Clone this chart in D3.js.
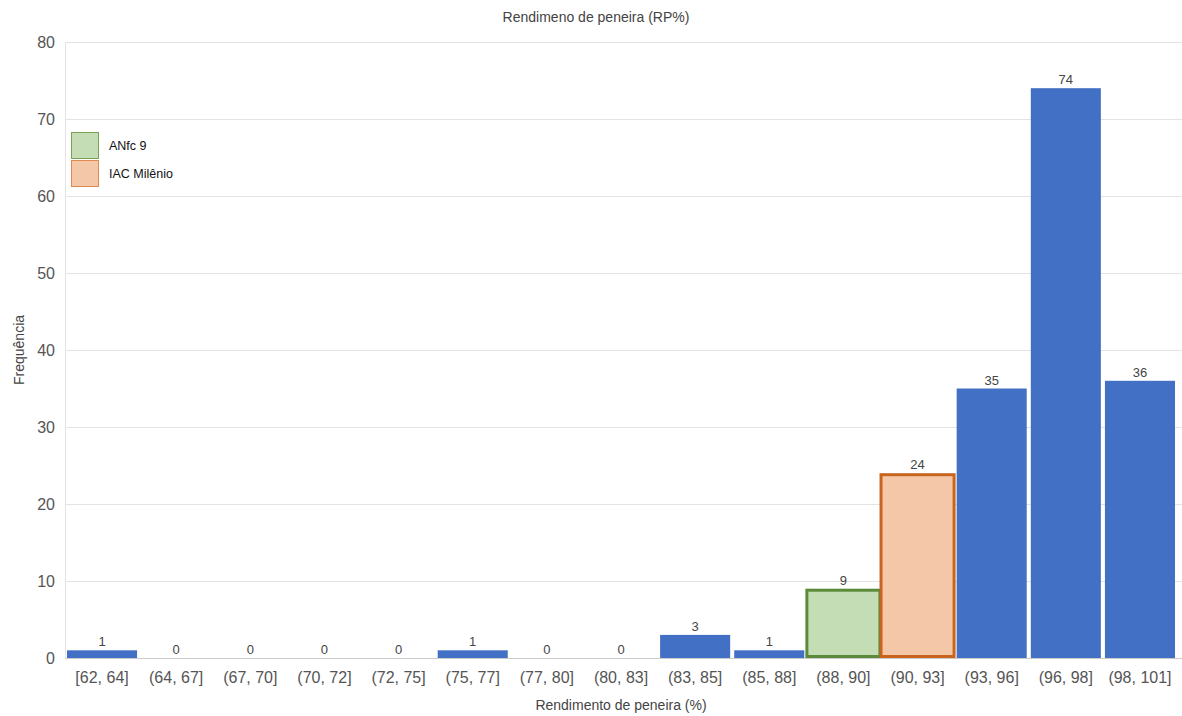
<!DOCTYPE html>
<html>
<head>
<meta charset="utf-8">
<script src="https://cdn.jsdelivr.net/npm/d3@7"></script>
<style>
  body { margin: 0; background: #fff; }
  text { font-family: Arial, "Liberation Sans", sans-serif; }
</style>
</head>
<body>
<svg id="chart" width="1182" height="716"></svg>
<script>
// Histogram bins of sieve yield and their counts
const categories = ["[62, 64]", "(64, 67]", "(67, 70]", "(70, 72]", "(72, 75]", "(75, 77]", "(77, 80]", "(80, 83]", "(83, 85]", "(85, 88]", "(88, 90]", "(90, 93]", "(93, 96]", "(96, 98]", "(98, 101]"];
const counts = [1, 0, 0, 0, 0, 1, 0, 0, 3, 1, 9, 24, 35, 74, 36];
const yTicks = [0, 10, 20, 30, 40, 50, 60, 70, 80];

// Highlighted bins (cultivars) and legend entries
const highlightBins = { "(88, 90]": "ANfc 9", "(90, 93]": "IAC Milênio" };
const legendItems = ["ANfc 9", "IAC Milênio"];
const fills = { "ANfc 9": "#c5ddb4", "IAC Milênio": "#f5c7a9" };
const strokes = { "ANfc 9": "#5b8a3a", "IAC Milênio": "#c9641f" };
const baseColor = "#4170c4";

const svg = d3.select("#chart");
const W = 1182, H = 716;
const margin = { top: 42, right: 5, bottom: 58, left: 65 };
const innerW = W - margin.left - margin.right;
const innerH = H - margin.top - margin.bottom;

const x = d3.scaleBand().domain(categories).range([margin.left, margin.left + innerW]).paddingInner(0.055).paddingOuter(0.027);
const y = d3.scaleLinear().domain([0, 80]).range([margin.top + innerH, margin.top]);

// Gridlines
svg.append("g").selectAll("line").data(yTicks).join("line")
  .attr("x1", margin.left).attr("x2", W)
  .attr("y1", d => y(d) + 0.5).attr("y2", d => y(d) + 0.5)
  .attr("stroke", d => d === 0 ? "#cccccc" : "#e3e3e3").attr("stroke-width", 1);

// Left axis line
svg.append("line")
  .attr("x1", margin.left + 0.5).attr("x2", margin.left + 0.5)
  .attr("y1", y(80)).attr("y2", y(0))
  .attr("stroke", "#e3e3e3");

// Y axis tick labels
const yAxis = d3.axisLeft(y).tickValues(yTicks).tickSize(0).tickPadding(10);
const gy = svg.append("g").attr("transform", `translate(${margin.left},0)`).call(yAxis);
gy.select(".domain").remove();
gy.selectAll("text").attr("font-size", 16).attr("fill", "#555").attr("font-family", "Arial, 'Liberation Sans', sans-serif");

// X axis tick labels
const xAxis = d3.axisBottom(x).tickSize(0).tickPadding(14);
const gx = svg.append("g").attr("transform", `translate(0,${y(0)})`).call(xAxis);
gx.select(".domain").remove();
gx.selectAll("text").attr("font-size", 16).attr("fill", "#555").attr("font-family", "Arial, 'Liberation Sans', sans-serif");

const data = categories.map((c, i) => ({ cat: c, value: counts[i], group: highlightBins[c] }));

// Bars (highlighted bins get a thick outline that slightly overhangs the band)
svg.append("g").selectAll("rect").data(data).join("rect")
  .attr("x", d => d.group ? x(d.cat) - 1.5 : x(d.cat))
  .attr("width", d => d.group ? x.bandwidth() + 3 : x.bandwidth())
  .attr("y", d => d.group ? y(d.value) + 1.5 : y(d.value))
  .attr("height", d => Math.max(0, (y(0) - y(d.value)) - (d.group ? 3 : 0)))
  .attr("fill", d => d.group ? fills[d.group] : baseColor)
  .attr("stroke", d => d.group ? strokes[d.group] : "none")
  .attr("stroke-width", d => d.group ? 3 : 0);

// Value labels
svg.append("g").selectAll("text").data(data).join("text")
  .attr("x", d => x(d.cat) + x.bandwidth() / 2)
  .attr("y", d => y(d.value) - 4)
  .attr("text-anchor", "middle")
  .attr("font-size", 13)
  .attr("fill", "#444")
  .text(d => d.value);

// Title
svg.append("text").attr("x", 596).attr("y", 22).attr("text-anchor", "middle")
  .attr("font-size", 14).attr("fill", "#444").text("Rendimeno de peneira (RP%)");

// Axis titles
svg.append("text").attr("x", margin.left + innerW / 2).attr("y", 710).attr("text-anchor", "middle")
  .attr("font-size", 14).attr("fill", "#444").text("Rendimento de peneira (%)");
svg.append("text").attr("transform", `translate(24,${margin.top + innerH / 2}) rotate(-90)`)
  .attr("text-anchor", "middle").attr("font-size", 14).attr("fill", "#444").text("Frequência");

// Legend
const lg = svg.append("g").attr("transform", "translate(71,132)");
legendItems.forEach((name, i) => {
  const row = lg.append("g").attr("transform", `translate(0,${i * 28})`);
  row.append("rect").attr("x", 0.5).attr("y", 0.5).attr("width", 27).attr("height", 26)
    .attr("fill", fills[name]).attr("stroke", name === "ANfc 9" ? "#7aa35a" : "#e08a50").attr("stroke-width", 1);
  row.append("text").attr("x", 38).attr("y", 17.5).attr("font-size", 12.5).attr("fill", "#111").text(name);
});
</script>
</body>
</html>
